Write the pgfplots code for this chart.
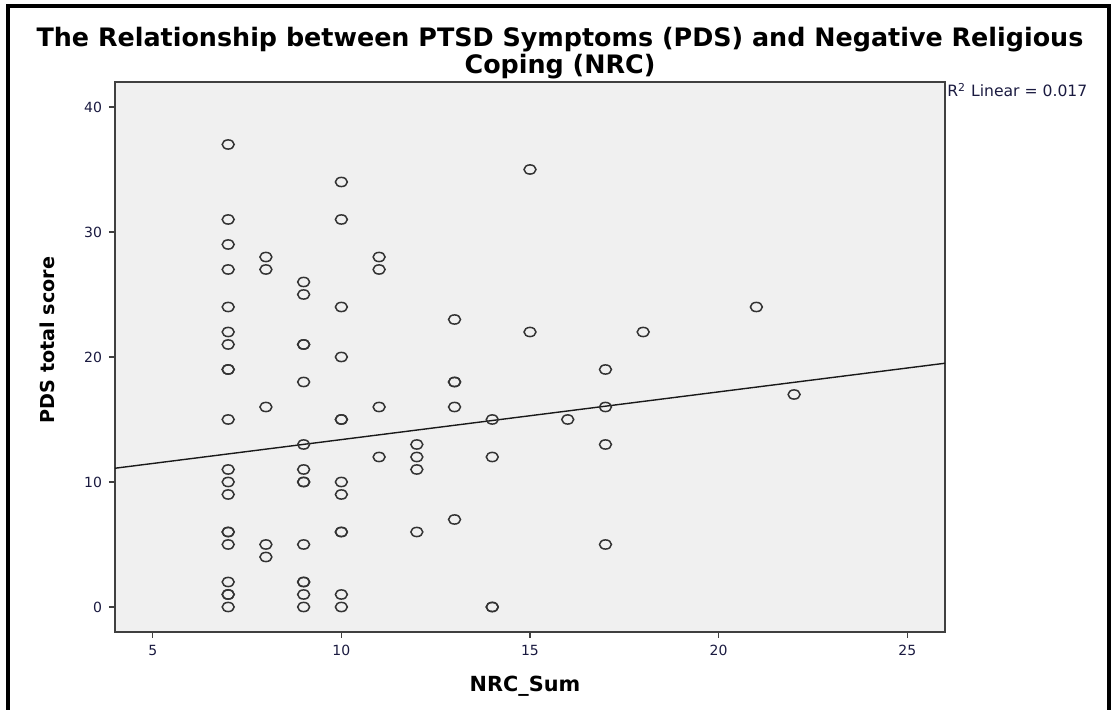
\documentclass[border=0pt]{standalone}
\usepackage{fontspec}
\setmainfont{DejaVu Sans}
\usepackage{pgfplots}
\pgfplotsset{compat=1.18}
\definecolor{bg}{HTML}{F0F0F0}
\definecolor{tickc}{HTML}{1A1A40}
\pgfdeclareplotmark{oval}{%
  \pgfpathellipse{\pgfpointorigin}{\pgfqpoint{1.3\pgfplotmarksize}{0pt}}{\pgfqpoint{0pt}{\pgfplotmarksize}}%
  \pgfusepathqstroke}
\begin{document}
\begin{tikzpicture}
\path[use as bounding box] (-57.5pt,-39pt) rectangle (499.5pt,316pt);
\begin{axis}[at={(0pt,0pt)}, anchor=south west, scale only axis,
  width=415pt, height=275pt,
  xmin=4, xmax=26, ymin=-2, ymax=42,
  xtick={5,10,...,25}, ytick={0,10,...,40},
  axis background/.style={fill=bg},
  axis line style={draw=black!75, line width=0.7pt},
  tick align=outside, tick pos=left, major tick length=3pt,
  tick style={black!75, line width=0.7pt},
  ticklabel style={font=\fontsize{7}{8}\selectfont, text=tickc},
  /pgf/number format/assume math mode=true,
]
\addplot[only marks, mark=oval, mark size=2.3pt, mark options={line width=0.75pt, draw=black!80}] table {
x y
7 37
7 31
7 29
7 27
7 24
7 22
7 21
7 19
7 19
7 15
7 11
7 10
7 9
7 6
7 6
7 5
7 2
7 1
7 1
7 0
8 28
8 27
8 16
8 5
8 4
9 26
9 25
9 21
9 21
9 18
9 13
9 11
9 10
9 10
9 5
9 2
9 2
9 1
9 0
10 34
10 31
10 24
10 20
10 15
10 15
10 10
10 9
10 6
10 6
10 1
10 0
11 28
11 27
11 16
11 12
12 13
12 12
12 11
12 6
13 23
13 18
13 18
13 16
13 7
14 15
14 12
14 0
14 0
15 35
15 22
16 15
17 19
17 16
17 13
17 5
18 22
21 24
22 17
};
\addplot[black!90, line width=0.7pt] coordinates {(4,11.1) (26,19.5)};
\end{axis}
\node[font=\bfseries\fontsize{12.7}{11}\selectfont, align=center] at (222.5pt,289.5pt) {The Relationship between PTSD Symptoms (PDS) and Negative Religious\\Coping (NRC)};
\node[font=\bfseries\fontsize{9.6}{10}\selectfont, rotate=90] at (-34pt,146pt) {PDS total score};
\node[font=\bfseries\fontsize{10.4}{10}\selectfont] at (205pt,-27pt) {NRC\_Sum};
\node[font=\fontsize{7.8}{8}\selectfont, text=tickc, anchor=west, inner sep=0pt] at (416pt,271pt) {R\textsuperscript{2} Linear = 0.017};
\draw[black, line width=2pt] (-53.5pt,-39pt) -- (-53.5pt,313pt) -- (497pt,313pt) -- (497pt,-39pt);
\end{tikzpicture}
\end{document}
